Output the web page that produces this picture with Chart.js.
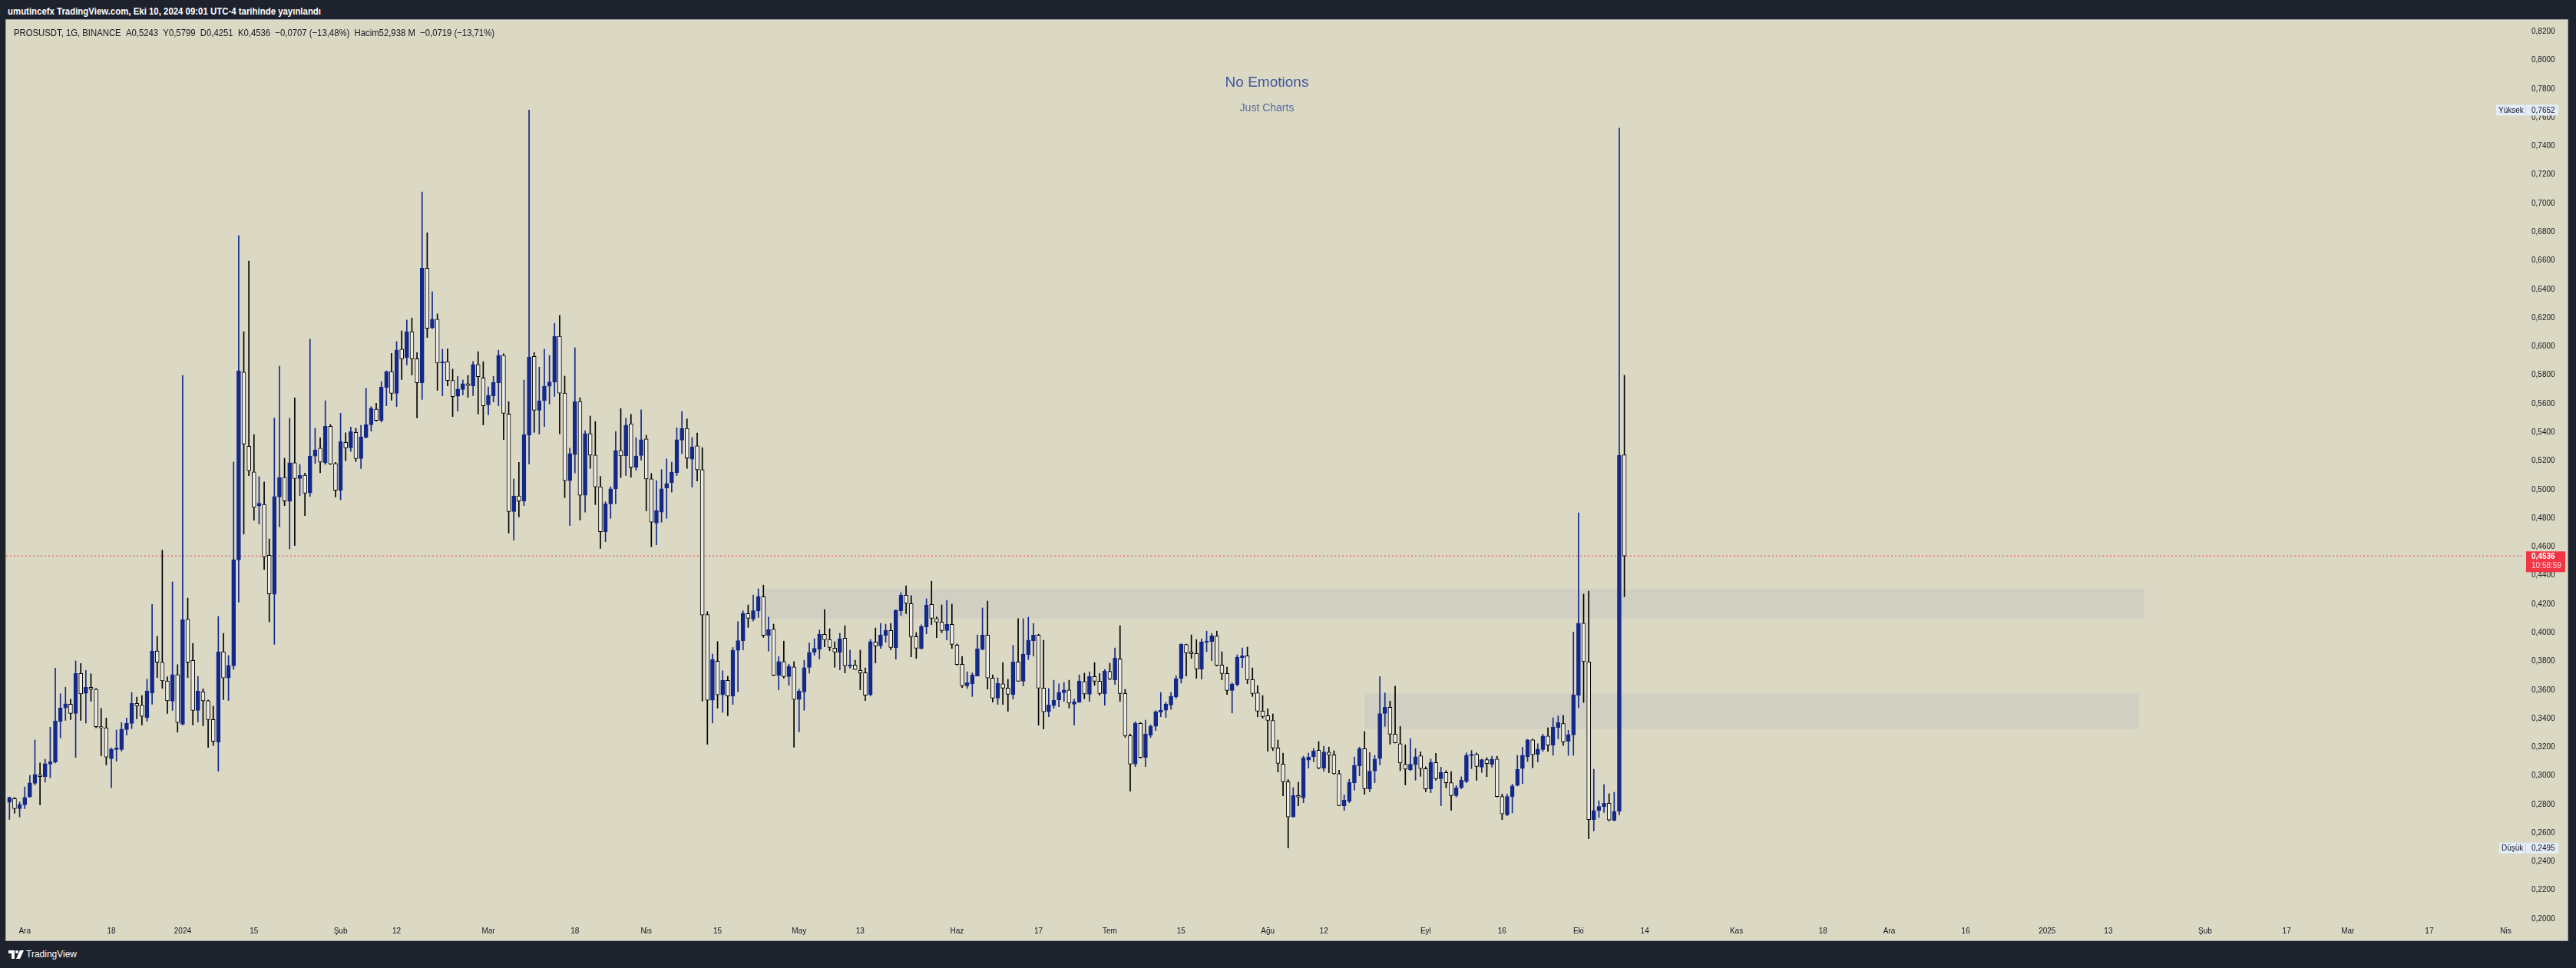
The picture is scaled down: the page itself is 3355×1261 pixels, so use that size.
<!DOCTYPE html>
<html lang="tr">
<head>
<meta charset="utf-8">
<title>PROSUSDT, 1G, BINANCE</title>
<script src="https://cdn.jsdelivr.net/npm/chart.js@4.4.1/dist/chart.umd.min.js"></script>
<style>
  html, body { margin: 0; padding: 0; width: 3355px; height: 1261px; overflow: hidden; background: #1e222d; font-family: "Liberation Sans", Arial, sans-serif; }
  #baslik { position: absolute; left: 10px; top: 7px; color: #ffffff; font-size: 13px; font-weight: bold; white-space: nowrap; transform-origin: left top; }
  #panel { position: absolute; left: 8px; top: 26px; width: 3336px; height: 1199px; background: #dbd8c3; box-shadow: 0 0 0 1px #9fa1a8; }
  #grafik { position: absolute; left: 0; top: 0; }
  #lejant { position: absolute; left: 10px; top: 9px; color: #131722; font-size: 13px; white-space: nowrap; transform-origin: left top; }
  .filigran { position: absolute; left: 0; width: 3284px; text-align: center; white-space: nowrap; }
  #ust { top: 70px; font-size: 19px; color: #41579c; }
  #alt { top: 106px; font-size: 14px; color: #5a6ca4; }
  #logo { position: absolute; left: 11px; top: 1236px; color: #ffffff; font-size: 12px; display: flex; align-items: center; gap: 3px; }
</style>
</head>
<body>
<div id="baslik">umutincefx TradingView.com, Eki 10, 2024 09:01 UTC-4 tarihinde yayınlandı</div>
<div id="panel">
  <canvas id="grafik" width="3336" height="1199"></canvas>
  <div id="lejant">PROSUSDT, 1G, BINANCE&nbsp;&nbsp;A0,5243&nbsp;&nbsp;Y0,5799&nbsp;&nbsp;D0,4251&nbsp;&nbsp;K0,4536&nbsp;&nbsp;−0,0707 (−13,48%)&nbsp;&nbsp;Hacim52,938 M&nbsp;&nbsp;−0,0719 (−13,71%)</div>
  <div class="filigran" id="ust">No Emotions</div>
  <div class="filigran" id="alt">Just Charts</div>
</div>
<div id="logo">
  <svg width="20" height="11" viewBox="0 0 20 11"><path d="M0 0h8v11H4V4H0z" fill="#fff"/><circle cx="11" cy="2" r="2" fill="#fff"/><path d="M15 0h5l-5 11h-5z" fill="#fff"/></svg>
  <span>TradingView</span>
</div>
<script>
// gunluk mumlar, ilk mum 28 Kasim 2023, son mum 10 Ekim 2024
const ilkGun = '2023-11-28';

const acilis = [
  .2814,.2840,.2770,.2797,.2852,.2948,.3006,.2994,.3081,.3096,
  .3381,.3474,.3500,.3436,.3715,.3576,.3619,.3605,.3343,.3335,
  .3119,.3184,.3184,.3323,.3366,.3506,.3494,.3407,.3579,.3872,
  .3794,.3663,.3521,.3707,.3361,.4094,.3806,.3457,.3587,.3524,
  .3393,.3236,.3867,.3683,.3768,.4509,.5821,.5303,.5123,.4887,
  .4896,.4541,.4268,.4949,.5086,.4917,.5187,.5077,.5100,.4978,
  .5234,.5289,.5187,.5443,.5182,.4995,.5330,.5292,.5400,.5216,
  .5365,.5452,.5562,.5484,.5714,.5824,.5673,.5981,.5923,.6103,
  .5914,.5746,.6548,.6130,.6191,.5885,.5894,.5763,.5653,.5700,
  .5740,.5725,.5874,.5781,.5592,.5655,.5746,.5938,.5528,.4847,
  .4955,.4920,.5380,.5930,.5554,.5621,.5722,.5752,.6072,.5674,
  .5063,.5245,.5616,.4961,.5392,.5241,.5020,.4705,.4900,.5005,
  .5273,.5235,.5460,.5156,.5238,.5354,.5075,.4766,.4842,.5011,
  .5049,.5118,.5345,.5427,.5212,.5305,.5139,.4127,.3528,.3801,
  .3566,.3667,.3557,.3877,.3944,.4133,.4095,.4153,.4252,.3981,
  .4025,.3702,.3798,.3693,.3760,.3534,.3586,.3758,.3862,.3885,
  .3989,.3953,.3892,.3863,.3962,.3767,.3774,.3736,.3721,.3567,
  .3935,.3908,.3981,.4015,.3895,.4153,.4262,.4203,.3972,.3890,
  .4040,.4198,.4098,.4074,.4015,.4058,.3914,.3779,.3629,.3644,
  .3697,.3885,.3983,.3683,.3543,.3643,.3613,.3568,.3795,.3661,
  .3847,.3944,.3983,.3613,.3447,.3490,.3531,.3581,.3599,.3500,
  .3515,.3658,.3570,.3693,.3661,.3573,.3730,.3670,.3817,.3575,
  .3280,.3082,.3366,.3128,.3284,.3346,.3445,.3459,.3495,.3552,
  .3679,.3918,.3865,.3854,.3745,.3933,.3938,.3977,.3774,.3715,
  .3597,.3638,.3825,.3838,.3672,.3580,.3452,.3420,.3387,.3194,
  .3082,.2958,.2712,.2862,.2846,.3110,.3134,.3178,.3053,.3165,
  .3146,.3015,.2790,.2823,.2951,.3069,.3189,.2909,.3033,.3120,
  .3435,.3479,.3291,.3224,.3080,.3043,.3077,.3140,.3050,.2909,
  .3093,.2979,.3023,.2952,.2862,.2916,.2959,.3140,.3150,.3060,
  .3113,.3080,.3117,.2855,.2728,.2855,.2932,.3050,.3133,.3251,
  .3150,.3184,.3278,.3214,.3338,.3365,.3241,.3285,.3563,.4066,
  .3797,.2694,.2758,.2785,.2808,.2688,.2751,.5243
];
const yuksek = [
  .2852,.2849,.2817,.2922,.3003,.3250,.3090,.3116,.3340,.3753,
  .3573,.3619,.3535,.3803,.3785,.3736,.3713,.3610,.3471,.3404,
  .3195,.3320,.3372,.3404,.3582,.3550,.3561,.3675,.4198,.3974,
  .4576,.3692,.4355,.3777,.5798,.4242,.3925,.3695,.3608,.3530,
  .3486,.4114,.3995,.3840,.5193,.6775,.6103,.6597,.5385,.5091,
  .5053,.4655,.5500,.5862,.5219,.5499,.5641,.5176,.5115,.6051,
  .5429,.5362,.5621,.5455,.5190,.5533,.5397,.5437,.5429,.5449,
  .5708,.5580,.5603,.5754,.5830,.5952,.6034,.6109,.6185,.6199,
  .5958,.7080,.6795,.6383,.6228,.5981,.5984,.5842,.5792,.5766,
  .5798,.5894,.5964,.5894,.5717,.5792,.5975,.5949,.5615,.5074,
  .5190,.5766,.7652,.5958,.5856,.5981,.5938,.6162,.6218,.5793,
  .5290,.5991,.5642,.5412,.5514,.5476,.5092,.4915,.5020,.5406,
  .5566,.5499,.5526,.5363,.5558,.5380,.5113,.5063,.5139,.5214,
  .5191,.5432,.5546,.5494,.5363,.5395,.5293,.4147,.3851,.3938,
  .3734,.3696,.3897,.4077,.4153,.4194,.4264,.4307,.4333,.4109,
  .4060,.3833,.3941,.3780,.3798,.3606,.3807,.3929,.3958,.4019,
  .4162,.4028,.3937,.3996,.4049,.3878,.3808,.3878,.3754,.3953,
  .4033,.4065,.4060,.4065,.4160,.4280,.4328,.4259,.4001,.4055,
  .4237,.4360,.4110,.4194,.4226,.4200,.3921,.3835,.3727,.3719,
  .3985,.4173,.4221,.3706,.3685,.3792,.3674,.3912,.4098,.4098,
  .4108,.4065,.3990,.3947,.3611,.3668,.3642,.3652,.3668,.3536,
  .3706,.3717,.3727,.3791,.3715,.3743,.3786,.3893,.4049,.3604,
  .3293,.3378,.3373,.3389,.3357,.3455,.3582,.3513,.3582,.3700,
  .3922,.3920,.3985,.3952,.3956,.4011,.3995,.4011,.3867,.3759,
  .3650,.3845,.3893,.3899,.3754,.3631,.3561,.3468,.3432,.3250,
  .3159,.2974,.2917,.2955,.3137,.3159,.3191,.3239,.3207,.3201,
  .3175,.3039,.2867,.2976,.3132,.3201,.3309,.3164,.3143,.3693,
  .3579,.3522,.3626,.3345,.3217,.3261,.3190,.3167,.3063,.3117,
  .3157,.3060,.3036,.3029,.2932,.2993,.3160,.3177,.3160,.3117,
  .3127,.3137,.3137,.2872,.2872,.2942,.3143,.3200,.3255,.3258,
  .3224,.3291,.3335,.3405,.3418,.3422,.3318,.4005,.4837,.4270,
  .4290,.3046,.2825,.2939,.2875,.2885,.7526,.5799
];
const dusuk = [
  .2695,.2738,.2712,.2770,.2850,.2936,.2797,.2956,.2986,.3090,
  .3265,.3387,.3393,.3128,.3387,.3369,.3521,.3335,.3140,.3076,
  .2916,.3102,.3172,.3285,.3329,.3398,.3355,.3381,.3500,.3686,
  .3611,.3436,.3457,.3305,.3355,.3686,.3355,.3375,.3349,.3198,
  .3212,.3032,.3532,.3526,.3742,.4213,.4690,.5097,.4786,.4759,
  .4442,.4076,.3918,.4740,.4888,.4585,.4609,.4958,.4818,.4952,
  .5182,.5118,.5176,.5175,.4949,.4929,.5202,.5266,.5196,.5147,
  .5360,.5408,.5478,.5472,.5586,.5624,.5580,.5769,.5871,.5801,
  .5501,.5629,.6063,.6125,.5693,.5656,.5725,.5510,.5548,.5661,
  .5644,.5656,.5528,.5452,.5522,.5612,.5586,.5350,.4696,.4646,
  .4809,.4888,.5179,.5400,.5388,.5440,.5598,.5651,.5389,.4944,
  .4749,.5116,.4787,.4842,.5148,.4895,.4589,.4636,.4799,.4900,
  .5084,.5098,.5086,.5136,.5206,.4851,.4601,.4615,.4772,.4799,
  .4982,.5098,.5252,.5148,.5017,.5060,.3522,.3220,.3368,.3473,
  .3443,.3420,.3499,.3589,.3880,.4037,.4080,.4106,.3967,.3871,
  .3700,.3600,.3682,.3632,.3199,.3307,.3458,.3717,.3842,.3816,
  .3901,.3874,.3758,.3740,.3719,.3751,.3742,.3601,.3525,.3558,
  .3788,.3890,.3933,.3879,.3815,.4121,.4133,.3831,.3820,.3885,
  .3992,.4056,.3965,.3999,.3951,.3890,.3774,.3617,.3611,.3554,
  .3697,.3879,.3606,.3515,.3499,.3499,.3450,.3536,.3661,.3627,
  .3812,.3837,.3354,.3327,.3413,.3472,.3483,.3520,.3474,.3354,
  .3512,.3538,.3520,.3632,.3563,.3493,.3670,.3638,.3520,.3269,
  .2892,.3064,.3123,.3064,.3268,.3316,.3412,.3407,.3464,.3541,
  .3648,.3697,.3820,.3681,.3675,.3868,.3804,.3768,.3670,.3568,
  .3439,.3627,.3756,.3643,.3554,.3412,.3402,.3171,.3176,.3026,
  .2860,.2495,.2710,.2790,.2812,.3053,.3098,.3048,.3032,.3021,
  .3010,.2790,.2758,.2812,.2899,.2999,.2871,.2889,.2952,.3076,
  .3345,.3221,.3229,.3036,.2936,.3036,.2969,.2996,.2889,.2882,
  .2969,.2791,.2916,.2758,.2852,.2909,.2952,.3050,.2969,.3023,
  .2993,.3060,.2852,.2694,.2721,.2741,.2929,.2946,.3100,.3056,
  .3097,.3170,.3170,.3143,.3257,.3211,.3143,.3143,.3475,.3512,
  .2560,.2614,.2708,.2744,.2684,.2685,.2728,.4251
];
const kapanis = [
  .2849,.2770,.2799,.2849,.2951,.3009,.2994,.3084,.3099,.3384,
  .3474,.3503,.3436,.3715,.3573,.3619,.3605,.3343,.3335,.3131,
  .3186,.3195,.3326,.3366,.3506,.3489,.3416,.3593,.3872,.3794,
  .3663,.3524,.3707,.3372,.4091,.3794,.3457,.3593,.3524,.3393,
  .3241,.3867,.3683,.3771,.4509,.5830,.5318,.5132,.4876,.4905,
  .4530,.4271,.4951,.5086,.4920,.5187,.5077,.5100,.4975,.5234,
  .5278,.5193,.5443,.5179,.4995,.5336,.5292,.5405,.5216,.5368,
  .5455,.5568,.5484,.5717,.5824,.5673,.5975,.5914,.6103,.5914,
  .5746,.6548,.6127,.6191,.5885,.5894,.5763,.5650,.5702,.5740,
  .5728,.5874,.5789,.5586,.5658,.5749,.5938,.5533,.4847,.4955,
  .4920,.5385,.5926,.5554,.5621,.5722,.5752,.6072,.5674,.5063,
  .5252,.5616,.4961,.5392,.5241,.5020,.4705,.4900,.5005,.5273,
  .5235,.5450,.5156,.5235,.5348,.5075,.4772,.4854,.5005,.5043,
  .5121,.5348,.5427,.5220,.5299,.5139,.4124,.3528,.3813,.3566,
  .3667,.3557,.3877,.3944,.4136,.4101,.4153,.4252,.3981,.4022,
  .3702,.3798,.3693,.3766,.3534,.3592,.3755,.3862,.3891,.3990,
  .3951,.3897,.3865,.3958,.3769,.3776,.3742,.3719,.3563,.3937,
  .3908,.3985,.4017,.3897,.4157,.4262,.4205,.3972,.3892,.4044,
  .4194,.4101,.4074,.4015,.4058,.3919,.3778,.3629,.3651,.3704,
  .3888,.3983,.3683,.3543,.3647,.3613,.3570,.3795,.3661,.3851,
  .3947,.3983,.3613,.3447,.3495,.3529,.3583,.3599,.3508,.3518,
  .3663,.3572,.3695,.3661,.3575,.3732,.3677,.3824,.3575,.3280,
  .3082,.3368,.3128,.3293,.3346,.3448,.3459,.3502,.3555,.3679,
  .3920,.3859,.3852,.3747,.3936,.3942,.3979,.3772,.3715,.3597,
  .3640,.3829,.3838,.3672,.3575,.3452,.3414,.3387,.3194,.3087,
  .2958,.2712,.2862,.2851,.3126,.3132,.3173,.3055,.3167,.3146,
  .3015,.2792,.2830,.2953,.3074,.3189,.2910,.3033,.3117,.3435,
  .3479,.3291,.3231,.3090,.3046,.3080,.3133,.3050,.2909,.3093,
  .2979,.3023,.2952,.2862,.2916,.2969,.3143,.3150,.3066,.3113,
  .3086,.3117,.2855,.2734,.2855,.2929,.3046,.3143,.3251,.3147,
  .3187,.3278,.3214,.3341,.3371,.3237,.3288,.3566,.4066,.3797,
  .2694,.2758,.2785,.2808,.2691,.2751,.5240,.4536
];

// zaman ekseni etiketleri
const zamanTarihleri = ['2023-12-01','2023-12-18','2024-01-01','2024-01-15','2024-02-01','2024-02-12','2024-03-01','2024-03-18',
  '2024-04-01','2024-04-15','2024-05-01','2024-05-13','2024-06-01','2024-06-17','2024-07-01','2024-07-15','2024-08-01',
  '2024-08-12','2024-09-01','2024-09-16','2024-10-01','2024-10-14','2024-11-01','2024-11-18','2024-12-01','2024-12-16',
  '2025-01-01','2025-01-13','2025-02-01','2025-02-17','2025-03-01','2025-03-17','2025-04-01'];
const zamanEtiketleri = ['Ara','18','2024','15','Şub','12','Mar','18','Nis','15','May','13','Haz','17','Tem','15','Ağu',
  '12','Eyl','16','Eki','14','Kas','18','Ara','16','2025','13','Şub','17','Mar','17','Nis'];

// fiyat ekseni
const fiyatEtiketleri = [0.20,0.22,0.24,0.26,0.28,0.30,0.32,0.34,0.36,0.38,0.40,0.42,0.44,0.46,0.48,0.50,
  0.52,0.54,0.56,0.58,0.60,0.62,0.64,0.66,0.68,0.70,0.72,0.74,0.76,0.78,0.80,0.82];

// gri bolgeler
const bolgeBaslangic = ['2024-04-24', '2024-08-20'];
const bolgeBitis = ['2025-01-20', '2025-01-19'];
const bolgeUst = [0.4307, 0.3576];
const bolgeAlt = [0.4100, 0.3328];

const sayac = '10:58:59';

const LACIVERT = '#13298a';
const ACIK = '#ecebe5';
const SIYAH = '#000000';
const KIRMIZI = '#f23645';
const yazi = '"Liberation Sans", Arial, sans-serif';

const gunSn = 86400000;
const baslangicMs = Date.parse(ilkGun + 'T00:00:00Z');
function gunNo(t) { return Math.round((Date.parse(t + 'T00:00:00Z') - baslangicMs) / gunSn); }
function virgul(v) { return v.toFixed(4).replace('.', ','); }

const X_MIN = -0.65, X_MAX = 493.7;
const Y_MIN = 0.1984, Y_MAX = 0.8282;

const yukselis = acilis.map((a, i) => kapanis[i] >= a);
const govde = acilis.map((a, i) => ({ x: i, y: [a, kapanis[i]] }));
const fitil = yuksek.map((h, i) => ({ x: i, y: [dusuk[i], h] }));
const sonFiyat = kapanis[kapanis.length - 1];
const enYuksek = Math.max(...yuksek);
const enDusuk = Math.min(...dusuk);

const zamanGunleri = zamanTarihleri.map(gunNo);
const etiketHaritasi = {};
zamanGunleri.forEach((g, i) => { etiketHaritasi[g] = zamanEtiketleri[i]; });

const bolgeEklentisi = {
    id: 'bolgeler',
    beforeDatasetsDraw(chart) {
        const { ctx, scales: { x, y } } = chart;
        ctx.save();
        ctx.fillStyle = 'rgba(190, 190, 190, 0.32)';
        bolgeUst.forEach((ust, i) => {
            const x1 = x.getPixelForValue(gunNo(bolgeBaslangic[i]));
            const x2 = x.getPixelForValue(gunNo(bolgeBitis[i]));
            const y1 = y.getPixelForValue(ust);
            const y2 = y.getPixelForValue(bolgeAlt[i]);
            ctx.fillRect(x1, y1, x2 - x1, y2 - y1);
        });
        ctx.restore();
    }
};

const etiketEklentisi = {
    id: 'fiyatEtiketleri',
    afterDraw(chart) {
        const { ctx, scales: { y } } = chart;
        ctx.save();
        ctx.textBaseline = 'middle';
        ctx.textAlign = 'left';

        // son fiyat kutusu
        const py = y.getPixelForValue(sonFiyat);
        ctx.fillStyle = KIRMIZI;
        ctx.fillRect(3282, py - 6, 51, 27);
        ctx.font = 'bold 10px ' + yazi;
        ctx.fillStyle = '#ffffff';
        ctx.fillText(virgul(sonFiyat), 3289, py + 1);
        ctx.font = '10px ' + yazi;
        ctx.fillStyle = '#ffd6da';
        ctx.fillText(sayac, 3289, py + 13);

        // yuksek / dusuk
        [[enYuksek, 'Yüksek', 3243], [enDusuk, 'Düşük', 3247]].forEach(([deger, ad, sol]) => {
            const yy = y.getPixelForValue(deger);
            ctx.fillStyle = '#e3edf9';
            ctx.fillRect(sol, yy - 7, 3324 - sol, 14);
            ctx.fillStyle = '#c8d3df';
            ctx.fillRect(3281, yy - 7, 1, 14);
            ctx.font = '10px ' + yazi;
            ctx.fillStyle = '#131722';
            ctx.fillText(ad, sol + 3, yy + 0.5);
            ctx.fillText(virgul(deger), 3289, yy + 0.5);
        });
        ctx.restore();
    }
};

new Chart(document.getElementById('grafik'), {
    type: 'bar',
    data: {
        datasets: [
            {
                label: 'gövde',
                data: govde,
                grouped: false,
                barThickness: 5,
                minBarLength: 1,
                backgroundColor: yukselis.map(u => u ? LACIVERT : ACIK),
                borderColor: yukselis.map(u => u ? LACIVERT : SIYAH),
                borderWidth: 1,
                borderSkipped: false,
                order: 0
            },
            {
                label: 'fitil',
                data: fitil,
                grouped: false,
                barThickness: 1,
                backgroundColor: yukselis.map(u => u ? LACIVERT : SIYAH),
                borderWidth: 0,
                order: 1
            },
            {
                type: 'line',
                label: 'son fiyat',
                data: [{ x: X_MIN, y: sonFiyat }, { x: X_MAX, y: sonFiyat }],
                borderColor: KIRMIZI,
                borderWidth: 1,
                borderDash: [2, 3],
                pointRadius: 0,
                order: 2
            }
        ]
    },
    options: {
        responsive: false,
        animation: false,
        layout: { padding: 0 },
        plugins: { legend: { display: false }, tooltip: { enabled: false } },
        scales: {
            x: {
                type: 'linear', min: X_MIN, max: X_MAX, offset: false,
                grid: { display: false, drawTicks: false },
                border: { display: false },
                afterBuildTicks: s => { s.ticks = zamanGunleri.map(v => ({ value: v })); },
                afterFit: s => { s.height = 25; s.paddingLeft = 0; s.paddingRight = 0; },
                ticks: {
                    autoSkip: false, maxRotation: 0, padding: 7, color: '#131722',
                    font: { family: yazi, size: 10 },
                    callback: v => etiketHaritasi[v]
                }
            },
            y: {
                position: 'right', min: Y_MIN, max: Y_MAX,
                grid: { display: false, drawTicks: false },
                border: { display: false },
                afterBuildTicks: s => { s.ticks = fiyatEtiketleri.map(v => ({ value: v })); },
                afterFit: s => { s.width = 56; s.paddingTop = 0; s.paddingBottom = 0; },
                ticks: {
                    padding: 9, color: '#131722',
                    font: { family: yazi, size: 10 },
                    callback: v => virgul(v)
                }
            }
        }
    },
    plugins: [bolgeEklentisi, etiketEklentisi]
});

// ust yazilari referans genisligine sigdir
function sigdir(id, hedef) {
    const el = document.getElementById(id);
    const w = el.getBoundingClientRect().width;
    el.style.transform = 'scaleX(' + (hedef / w) + ')';
}
sigdir('baslik', 408);
sigdir('lejant', 626);
</script>
</body>
</html>
